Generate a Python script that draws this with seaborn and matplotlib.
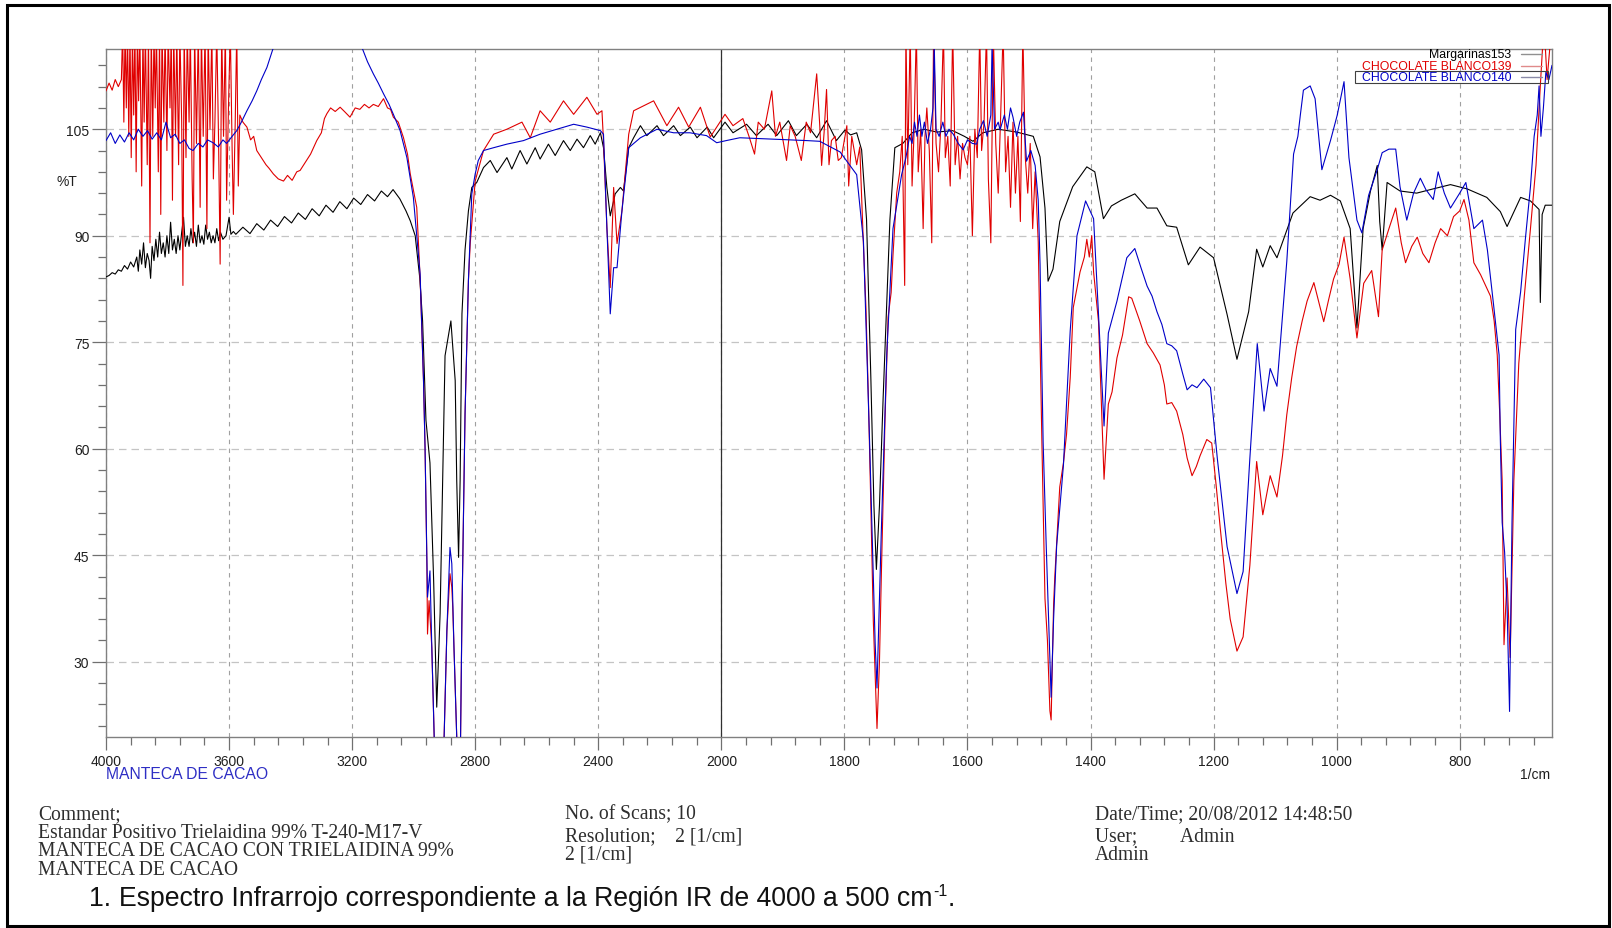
import numpy as np
import pandas as pd
import matplotlib
matplotlib.use("Agg")
import matplotlib.pyplot as plt
import seaborn as sns
from matplotlib import font_manager
from matplotlib.patches import Rectangle
from matplotlib.lines import Line2D

# ---------------------------------------------------------------------------
# Spectra: (wavenumber [1/cm], transmittance [%T])
# ---------------------------------------------------------------------------
MARGARINAS_153 = [
    (4000, 84.2), (3990, 84.4), (3980, 84.8), (3970, 84.6), (3960, 85.2), (3950, 85.0),
    (3940, 85.8), (3930, 85.3), (3920, 86.3), (3910, 85.6), (3900, 87.0), (3895, 85.0),
    (3890, 88.0), (3884, 86.0), (3878, 89.0), (3872, 85.5), (3866, 87.5), (3860, 86.5),
    (3855, 84.0), (3850, 88.5), (3844, 86.5), (3838, 89.5), (3832, 87.0), (3826, 90.5),
    (3820, 87.5), (3814, 89.0), (3808, 87.0), (3802, 90.0), (3796, 87.5), (3790, 91.9),
    (3784, 88.0), (3778, 89.5), (3772, 87.5), (3766, 90.0), (3760, 88.0), (3754, 90.5),
    (3748, 92.6), (3742, 88.5), (3736, 90.0), (3730, 88.5), (3724, 91.0), (3718, 89.0),
    (3712, 90.5), (3706, 88.5), (3700, 91.5), (3694, 89.0), (3688, 90.0), (3682, 88.8),
    (3676, 91.5), (3670, 89.5), (3664, 90.5), (3658, 89.0), (3652, 90.0), (3646, 89.0),
    (3640, 91.0), (3634, 89.3), (3628, 90.5), (3620, 89.5), (3610, 90.0), (3600, 92.6),
    (3594, 90.2), (3586, 90.6), (3578, 90.2), (3555, 91.2), (3532, 90.3), (3510, 91.7),
    (3487, 90.8), (3465, 92.2), (3442, 91.3), (3420, 92.7), (3397, 91.8), (3375, 93.2),
    (3352, 92.3), (3330, 93.8), (3307, 92.8), (3285, 94.3), (3262, 93.3), (3240, 94.8),
    (3217, 93.8), (3195, 95.3), (3172, 94.4), (3150, 95.8), (3127, 94.9), (3105, 96.3),
    (3085, 95.5), (3067, 96.5), (3045, 95.2), (3025, 93.5), (3011, 92.1), (2995, 90.0),
    (2980, 84.0), (2971, 78.0), (2960, 64.0), (2953, 60.8), (2947, 58.0), (2935, 41.4),
    (2925, 23.6), (2914, 36.8), (2898, 73.1), (2879, 78.0), (2865, 69.6), (2860, 55.5),
    (2854, 44.7), (2849, 55.5), (2843, 79.0), (2833, 88.0), (2822, 93.5), (2811, 96.8),
    (2795, 97.5), (2773, 99.6), (2751, 100.6), (2729, 98.9), (2697, 101.0), (2681, 99.4),
    (2654, 102.0), (2632, 100.1), (2605, 102.4), (2589, 100.8), (2562, 102.9), (2540, 101.3),
    (2513, 103.4), (2491, 102.0), (2469, 103.6), (2448, 102.4), (2426, 104.1), (2410, 102.9),
    (2393, 104.5), (2383, 102.4), (2372, 96.8), (2361, 92.8), (2345, 95.9), (2328, 96.8),
    (2318, 96.3), (2301, 102.4), (2285, 103.8), (2263, 105.5), (2242, 104.1), (2209, 105.5),
    (2188, 104.1), (2155, 105.5), (2133, 104.1), (2101, 105.3), (2079, 103.8), (2046, 105.3),
    (2025, 103.8), (1994, 106.0), (1981, 104.5), (1959, 105.7), (1943, 104.1), (1924, 105.7),
    (1910, 104.1), (1891, 106.2), (1878, 104.1), (1861, 105.7), (1845, 103.8), (1829, 106.2),
    (1813, 103.4), (1799, 104.9), (1790, 104.2), (1780, 104.5), (1772, 102.1), (1764, 92.3),
    (1757, 70.0), (1752, 52.0), (1748, 43.0), (1743, 52.0), (1737, 67.2), (1726, 92.3),
    (1718, 102.4), (1705, 103.0), (1690, 104.5), (1670, 105.0), (1650, 104.6), (1624, 104.8),
    (1605, 104.0), (1591, 103.3), (1575, 104.5), (1550, 105.0), (1520, 104.6), (1493, 104.0),
    (1482, 101.1), (1474, 93.9), (1469, 83.6), (1461, 85.3), (1450, 92.0), (1429, 96.9),
    (1406, 99.7), (1393, 99.0), (1379, 92.4), (1366, 94.2), (1350, 95.0), (1328, 95.9),
    (1308, 93.9), (1292, 93.9), (1276, 91.4), (1260, 91.2), (1241, 85.9), (1222, 88.4),
    (1200, 86.9), (1178, 78.9), (1162, 72.6), (1143, 79.3), (1130, 88.1), (1120, 85.6),
    (1108, 88.6), (1097, 86.9), (1071, 93.2), (1043, 95.5), (1027, 95.0), (1010, 95.7),
    (994, 94.9), (978, 91.0), (967, 77.0), (957, 91.0), (945, 96.3), (934, 99.9),
    (930, 92.0), (926, 88.0), (918, 97.5), (897, 96.3), (870, 96.0), (843, 96.6),
    (815, 97.2), (788, 96.6), (756, 95.4), (734, 93.4), (723, 91.3), (701, 95.4),
    (685, 94.9), (671, 93.7), (669, 80.6), (666, 93.0), (661, 94.3), (650, 94.3),
]

CHOCOLATE_BLANCO_139 = [
    (4000, 110.4), (3990, 111.5), (3980, 110.5), (3970, 112.0), (3960, 111.0), (3950, 112.0),
    (3946, 119), (3942, 106), (3938, 119), (3934, 108), (3930, 119), (3926, 104),
    (3922, 119), (3918, 101), (3914, 119), (3910, 107), (3906, 119), (3902, 99),
    (3898, 119), (3894, 109), (3890, 119), (3884, 97), (3880, 119), (3876, 106),
    (3872, 119), (3866, 100), (3862, 119), (3857, 89), (3853, 119), (3848, 104),
    (3844, 119), (3840, 108), (3836, 119), (3830, 99), (3826, 119), (3822, 93),
    (3818, 119), (3812, 106), (3808, 119), (3802, 102), (3798, 119), (3792, 108),
    (3788, 119), (3784, 95), (3780, 119), (3774, 104), (3770, 119), (3764, 100),
    (3760, 119), (3754, 106), (3750, 83), (3746, 119), (3740, 101), (3736, 119),
    (3730, 106), (3726, 119), (3720, 98), (3716, 89), (3712, 119), (3706, 103),
    (3700, 119), (3694, 94), (3690, 119), (3684, 104), (3678, 119), (3672, 91),
    (3668, 119), (3662, 105), (3656, 119), (3651, 98), (3646, 106), (3640, 119),
    (3634, 103), (3629, 86), (3624, 119), (3618, 104), (3612, 119), (3608, 95),
    (3602, 108), (3596, 119), (3590, 102), (3586, 93), (3580, 106), (3575, 119),
    (3570, 97), (3565, 107), (3555, 106.0), (3542, 105.3), (3530, 103.5), (3520, 104.0),
    (3510, 102.0), (3495, 101.0), (3480, 100.0), (3470, 99.5), (3456, 98.7), (3440, 98.0),
    (3423, 97.7), (3410, 98.5), (3395, 97.8), (3380, 99.0), (3369, 99.2), (3350, 100.5),
    (3335, 101.5), (3315, 103.4), (3300, 104.5), (3290, 106.5), (3282, 107.2), (3270, 108.0),
    (3255, 107.5), (3239, 108.1), (3225, 107.5), (3207, 106.7), (3190, 108.0), (3175, 107.8),
    (3160, 108.5), (3145, 108.0), (3131, 108.5), (3115, 108.2), (3098, 109.3), (3085, 108.0),
    (3075, 107.8), (3066, 106.7), (3050, 106.0), (3033, 103.8), (3020, 101.5), (3011, 98.7),
    (2990, 94.0), (2979, 84.0), (2968, 69.6), (2963, 60.2), (2957, 43.8), (2955, 33.9),
    (2950, 38.6), (2941, 32.0), (2933, 19.0), (2925, 10.0), (2910, 10.0), (2901, 19.4),
    (2892, 34.4), (2882, 42.4), (2876, 40.5), (2873, 37.7), (2869, 32.0), (2860, 19.4),
    (2855, 8.0), (2850, 10.0), (2843, 36.8), (2833, 64.9), (2822, 83.7), (2816, 89.0),
    (2800, 97.7), (2773, 102.0), (2740, 104.3), (2697, 105.0), (2648, 106.0), (2621, 103.8),
    (2589, 107.6), (2556, 106.0), (2513, 109.0), (2480, 107.1), (2437, 109.5), (2404, 107.1),
    (2388, 107.6), (2383, 103.4), (2372, 91.2), (2361, 82.7), (2350, 96.8), (2339, 88.9),
    (2323, 93.5), (2301, 104.3), (2285, 107.6), (2220, 109.0), (2177, 105.5), (2139, 108.1),
    (2106, 105.3), (2068, 108.1), (2036, 103.9), (2015, 105.3), (1994, 107.1), (1981, 105.5),
    (1965, 106.5), (1955, 104.0), (1946, 101.5), (1940, 106.0), (1930, 105.0), (1918, 110.4),
    (1912, 104.0), (1905, 106.0), (1894, 100.6), (1888, 105.5), (1880, 104.0), (1870, 100.6),
    (1862, 106.0), (1855, 104.5), (1845, 112.8), (1840, 105.5), (1837, 99.9), (1833, 104.5),
    (1829, 110.6), (1825, 100.0), (1821, 103.4), (1815, 104.0), (1810, 100.6), (1805, 101.0),
    (1796, 105.5), (1793, 97.0), (1788, 104.0), (1780, 100.0), (1775, 102.5), (1769, 88.6),
    (1765, 80.0), (1761, 67.2), (1757, 52.0), (1753, 35.8), (1747, 20.6), (1743, 30.0),
    (1740, 42.0), (1734, 64.0), (1729, 78.5), (1724, 82.0), (1721, 87.3), (1715, 96.0),
    (1710, 99), (1706, 104), (1702, 83), (1700, 119), (1697, 100), (1693, 119),
    (1690, 97), (1687, 104), (1683, 119), (1680, 99), (1676, 105), (1672, 91),
    (1669, 104), (1666, 108), (1662, 102), (1658, 89), (1655, 119), (1651, 103),
    (1647, 99), (1643, 106), (1639, 119), (1636, 101), (1632, 104), (1628, 97),
    (1624, 119), (1620, 100), (1616, 104), (1612, 98), (1608, 103), (1604, 101),
    (1600, 100), (1596, 104), (1592, 90), (1588, 105), (1584, 101), (1580, 119),
    (1577, 102), (1573, 106), (1569, 119), (1566, 98), (1562, 89), (1558, 119),
    (1554, 103), (1550, 96), (1546, 107), (1542, 119), (1538, 99), (1534, 104),
    (1530, 94), (1526, 106), (1522, 96), (1518, 104), (1514, 92), (1510, 119),
    (1506, 101), (1502, 96), (1498, 103), (1494, 91), (1490, 99), (1485, 89.2),
    (1479, 60.9), (1474, 38.9), (1470, 33.0), (1466, 23.1), (1464, 21.8), (1460, 38.0),
    (1458, 42.0), (1450, 54.6), (1444, 58.0), (1439, 62.0), (1433, 70.0), (1428, 79.9),
    (1417, 84.9), (1410, 87.0), (1406, 89.5), (1402, 87.0), (1398, 90.0), (1395, 84.9),
    (1387, 77.9), (1378, 55.7), (1371, 66.3), (1365, 68.0), (1357, 72.8), (1348, 76.0),
    (1338, 81.4), (1333, 81.2), (1326, 79.5), (1320, 78.0), (1308, 74.8), (1298, 73.5),
    (1287, 71.8), (1280, 69.0), (1276, 66.3), (1268, 66.5), (1260, 65.3), (1250, 62.0),
    (1243, 58.7), (1235, 56.2), (1228, 57.5), (1222, 59.0), (1211, 61.3), (1203, 60.8),
    (1196, 55.0), (1189, 48.7), (1180, 41.0), (1173, 36.0), (1162, 31.5), (1152, 33.5),
    (1141, 43.6), (1130, 58.2), (1120, 50.7), (1108, 56.2), (1097, 53.2), (1088, 59.0),
    (1081, 64.8), (1073, 70.0), (1065, 74.4), (1056, 78.0), (1048, 80.8), (1037, 83.4),
    (1021, 77.9), (1013, 81.0), (1005, 83.9), (996, 86.0), (988, 89.8), (978, 83.9),
    (967, 75.6), (956, 83.3), (943, 85.1), (932, 78.6), (926, 88.0), (915, 91.0),
    (904, 93.9), (895, 89.0), (888, 86.2), (878, 88.5), (869, 89.8), (860, 87.5),
    (850, 86.2), (840, 89.0), (831, 91.0), (820, 90.0), (810, 92.7), (800, 93.5),
    (793, 95.1), (785, 92.2), (777, 86.2), (766, 84.5), (758, 83.0), (750, 81.5),
    (744, 78.0), (739, 73.2), (735, 65.0), (731, 55.5), (728, 32.4), (723, 41.8),
    (718, 30.6), (712, 55.5), (704, 72.0), (695, 81.5), (685, 91.0), (676, 99.9),
    (669, 111.1), (663, 120.0), (658, 112.0), (652, 118.0),
]

CHOCOLATE_BLANCO_140 = [
    (4000, 103.4), (3985, 104.5), (3970, 103.0), (3955, 104.2), (3940, 103.2), (3925, 104.5),
    (3910, 103.5), (3895, 105.0), (3880, 104.0), (3865, 104.8), (3850, 103.6), (3835, 104.5),
    (3820, 103.5), (3805, 106.0), (3790, 103.8), (3775, 104.3), (3760, 103.0), (3745, 103.5),
    (3730, 102.3), (3717, 102.0), (3700, 103.0), (3685, 102.5), (3670, 103.5), (3652, 103.1),
    (3635, 102.5), (3620, 103.5), (3608, 103.0), (3590, 104.0), (3575, 104.8), (3560, 106.0),
    (3542, 107.6), (3525, 109.0), (3510, 110.4), (3495, 112.0), (3477, 113.7), (3456, 116.5),
    (3440, 119.0), (3300, 125.0), (3200, 119.0), (3168, 116.5), (3150, 114.5), (3131, 112.8),
    (3115, 111.5), (3098, 110.0), (3080, 108.5), (3066, 107.1), (3044, 104.8), (3022, 101.0),
    (3001, 95.4), (2990, 90.0), (2979, 84.6), (2968, 69.6), (2963, 60.2), (2957, 43.8),
    (2955, 39.1), (2947, 42.8), (2941, 32.0), (2933, 19.0), (2925, 10.0), (2910, 10.0),
    (2901, 19.4), (2892, 34.4), (2882, 46.1), (2876, 43.8), (2869, 32.0), (2860, 19.4),
    (2855, 8.0), (2850, 10.0), (2843, 36.8), (2833, 64.9), (2822, 83.7), (2811, 95.9),
    (2800, 98.7), (2790, 100.6), (2773, 102.0), (2740, 102.4), (2697, 102.9), (2643, 103.4),
    (2589, 104.3), (2534, 105.0), (2480, 105.7), (2437, 105.3), (2393, 104.8), (2383, 104.3),
    (2372, 91.2), (2361, 79.0), (2350, 85.5), (2339, 85.5), (2323, 93.5), (2301, 102.4),
    (2263, 103.8), (2209, 105.0), (2155, 104.5), (2102, 104.5), (2048, 104.1), (2015, 103.1),
    (1992, 103.4), (1970, 103.8), (1916, 103.6), (1861, 103.4), (1840, 103.3), (1807, 101.8),
    (1780, 98.6), (1769, 89.2), (1759, 60.9), (1750, 32.6), (1747, 26.3), (1740, 48.3),
    (1731, 73.5), (1721, 91.0), (1707, 98.6), (1700, 101.0), (1694, 104.0), (1690, 103.0),
    (1686, 106.0), (1682, 104.0), (1678, 107.0), (1674, 104.0), (1670, 106.0), (1665, 103.0),
    (1660, 105.0), (1656, 108.0), (1654, 117.0), (1651, 105.0), (1646, 104.0), (1640, 106.0),
    (1635, 104.0), (1630, 105.0), (1623, 104.3), (1615, 103.0), (1607, 102.1), (1600, 103.5),
    (1592, 103.0), (1585, 102.9), (1580, 105.0), (1574, 106.2), (1568, 104.0), (1562, 107.0),
    (1560, 117.0), (1556, 105.0), (1550, 106.0), (1547, 104.9), (1540, 107.0), (1535, 105.0),
    (1530, 108.0), (1526, 106.7), (1520, 104.0), (1515, 106.0), (1509, 107.4), (1504, 100.5),
    (1497, 102.0), (1490, 99.9), (1485, 95.0), (1482, 86.0), (1477, 60.9), (1472, 46.4),
    (1464, 25.0), (1460, 36.0), (1455, 46.4), (1444, 57.7), (1433, 76.6), (1422, 90.0),
    (1408, 94.9), (1395, 92.4), (1387, 78.9), (1378, 63.2), (1371, 76.3), (1357, 80.8),
    (1341, 86.9), (1328, 88.2), (1318, 85.5), (1308, 82.9), (1300, 81.5), (1292, 79.3),
    (1284, 77.5), (1276, 74.8), (1268, 74.5), (1260, 73.8), (1250, 70.5), (1243, 68.3),
    (1235, 69.0), (1227, 68.6), (1216, 69.8), (1205, 68.6), (1194, 58.7), (1178, 46.2),
    (1162, 39.6), (1152, 42.7), (1141, 58.7), (1129, 74.8), (1118, 65.3), (1108, 71.3),
    (1097, 68.8), (1081, 86.4), (1070, 101.5), (1063, 104.0), (1059, 107.0), (1054, 110.5),
    (1043, 111.1), (1035, 109.3), (1024, 99.3), (1010, 103.4), (999, 107.0), (988, 111.7),
    (980, 101.0), (967, 92.2), (959, 90.4), (948, 95.7), (934, 99.3), (926, 101.7),
    (915, 102.2), (904, 102.2), (897, 96.9), (886, 92.2), (875, 96.0), (864, 98.1),
    (855, 96.5), (843, 95.1), (835, 99.0), (825, 96.0), (815, 93.9), (800, 96.0),
    (790, 97.5), (777, 91.0), (763, 92.2), (755, 88.0), (745, 80.3), (736, 73.2),
    (734, 61.4), (731, 49.6), (727, 45.4), (723, 37.7), (719, 23.0), (715, 49.6),
    (709, 76.8), (701, 82.1), (693, 89.8), (685, 96.9), (679, 104.0), (674, 107.0),
    (671, 111.1), (668, 104.0), (664, 108.0), (660, 113.0), (655, 112.0), (650, 114.0),
]

SERIES_NAMES = ["Margarinas153", "CHOCOLATE BLANCO139", "CHOCOLATE BLANCO140"]
SERIES_COLORS = ["#000000", "#e00000", "#0000c8"]
LEGEND_SWATCH = ["#909090", "#e08a8a", "#8a8aa8"]

X_MAJOR = [4000, 3600, 3200, 2800, 2400, 2000, 1800, 1600, 1400, 1200, 1000, 800]
Y_MAJOR = [30, 45, 60, 75, 90, 105]

COMMENT_LINES = ["Comment;",
                 "Estandar Positivo Trielaidina 99% T-240-M17-V",
                 "MANTECA DE CACAO CON TRIELAIDINA 99%",
                 "MANTECA DE CACAO"]
SCAN_LINES = ["No. of Scans; 10", "Resolution;    2 [1/cm]", "2 [1/cm]"]
DATE_LINES = ["Date/Time; 20/08/2012 14:48:50", "User;         Admin", "Admin"]
CAPTION = "Espectro Infrarrojo correspondiente a la Región IR de 4000 a 500 cm"

# ---------------------------------------------------------------------------
sns.set_theme(style="white")
plt.rcParams["font.family"] = ["Liberation Sans", "DejaVu Sans"]

W, H = 1612, 929
fig = plt.figure(figsize=(W / 100, H / 100), dpi=100, facecolor="white")
L, R, T, B = 106, 1552, 50, 738
ax = fig.add_axes([L / W, 1 - B / H, (R - L) / W, (B - T) / H])
ax.set_facecolor("white")


def px(x, y):
    """figure-pixel (origin top-left) -> figure fraction"""
    return x / W, 1 - y / H


# compressed wavenumber scale above 2000 1/cm
def fwd(x):
    x = np.asarray(x, float)
    return np.where(x > 2000, 2000 + (x - 2000) / 2.0, x)


def inv(u):
    u = np.asarray(u, float)
    return np.where(u > 2000, 2000 + (u - 2000) * 2.0, u)


ax.set_xscale("function", functions=(fwd, inv))

frames = []
for name, data in zip(SERIES_NAMES, [MARGARINAS_153, CHOCOLATE_BLANCO_139, CHOCOLATE_BLANCO_140]):
    df = pd.DataFrame(data, columns=["wn", "T"])
    df["sample"] = name
    frames.append(df)
spectra = pd.concat(frames, ignore_index=True)

for name, color in zip(SERIES_NAMES, SERIES_COLORS):
    sns.lineplot(data=spectra[spectra["sample"] == name], x="wn", y="T", ax=ax,
                 color=color, lw=0.8, sort=False, estimator=None, legend=False, zorder=3)

ax.set_xlim(4000, 650)
ax.set_ylim(19.4, 116.3)
ax.set_xlabel("")
ax.set_ylabel("")

x_minor = list(range(3920, 2000, -80)) + list(range(1960, 650, -40))
y_minor = [v for v in range(21, 115, 3) if v not in Y_MAJOR]
ax.set_xticks(X_MAJOR, labels=[str(v) for v in X_MAJOR])
ax.set_xticks(x_minor, minor=True)
ax.set_yticks(Y_MAJOR, labels=[str(v) for v in Y_MAJOR])
ax.set_yticks(y_minor, minor=True)

tick_col = "#707070"
ax.tick_params(axis="y", which="major", direction="out", length=10, width=0.9,
               color=tick_col, pad=2, labelsize=10, labelcolor="#202020", left=True)
ax.tick_params(axis="y", which="minor", direction="out", length=6, width=0.9,
               color=tick_col, left=True)
ax.tick_params(axis="x", which="major", direction="out", length=9, width=0.9,
               color=tick_col, pad=3, labelsize=10, labelcolor="#202020", bottom=True)
ax.tick_params(axis="x", which="minor", direction="out", length=6, width=0.9,
               color=tick_col, bottom=True)

for s in ax.spines.values():
    s.set_color("#808080")
    s.set_linewidth(1.0)

ax.set_axisbelow(True)
ax.grid(False)
ax.grid(axis="y", which="major", ls=(0, (6, 4)), color="#c4c4c4", lw=0.9)
ax.grid(axis="x", which="major", ls=(0, (4, 4)), color="#a0a0a0", lw=0.8)
ax.axvline(2000, color="#303030", lw=0.9, zorder=2)

# axis captions
fig.text(*px(77, 182), "%T", ha="right", va="center", fontsize=10, color="#202020")
fig.text(*px(106, 775), "MANTECA DE CACAO", ha="left", va="center", fontsize=11.3,
         color="#2e2ec4")
fig.text(*px(1550, 775), "1/cm", ha="right", va="center", fontsize=10, color="#202020")

# legend block
leg_rows = [55, 66.5, 78]
for name, color, sw, yy in zip(SERIES_NAMES, SERIES_COLORS, LEGEND_SWATCH, leg_rows):
    fig.text(*px(1511, yy), name, ha="right", va="center", fontsize=8.8, color=color)
    x0, y0 = px(1521, yy)
    x1, _ = px(1542, yy)
    fig.add_artist(Line2D([x0, x1], [y0, y0], color=sw, lw=1.0, transform=fig.transFigure))
bx, by = px(1355, 84)
fig.add_artist(Rectangle((bx, by), (1548 - 1355) / W, 12 / H, transform=fig.transFigure,
                         fill=False, ec="#404040", lw=0.8))

# acquisition notes
serif = ["Liberation Serif", "DejaVu Serif"]
note_col = "#2e2e2e"
for line, yb in zip(COMMENT_LINES, [819, 838, 856, 875]):
    fig.text(*px(38, yb), line, ha="left", va="baseline", fontsize=14.1, family=serif, color=note_col)
for line, yb in zip(SCAN_LINES, [819, 841, 860]):
    fig.text(*px(565, yb), line, ha="left", va="baseline", fontsize=14.1, family=serif, color=note_col)
for line, yb in zip(DATE_LINES, [819, 841, 860]):
    fig.text(*px(1095, yb), line, ha="left", va="baseline", fontsize=14.1, family=serif, color=note_col)

# figure caption with superscript exponent
installed = {f.name for f in font_manager.fontManager.ttflist}
if "Liberation Sans Narrow" in installed:
    cap_family, cap_size = ["Liberation Sans Narrow", "Liberation Sans"], 23.0
else:
    cap_family, cap_size = ["Liberation Sans", "DejaVu Sans"], 19.2
base_y = 906
fig.text(*px(111, base_y), "1.", ha="right", va="baseline", fontsize=cap_size,
         family=cap_family, color="#111111")
cap = fig.text(*px(119, base_y), CAPTION, ha="left", va="baseline", fontsize=cap_size,
               family=cap_family, color="#111111")
fig.canvas.draw()
rend = fig.canvas.get_renderer()
bb = cap.get_window_extent(rend)
sup = fig.text((bb.x1 + 1) / W, (H - base_y + 0.5 * cap_size) / H, "-1", ha="left",
               va="baseline", fontsize=cap_size * 0.6, family=cap_family, color="#111111")
bb2 = sup.get_window_extent(rend)
fig.text(bb2.x1 / W, (H - base_y) / H, ".", ha="left", va="baseline", fontsize=cap_size,
         family=cap_family, color="#111111")

# outer frame
fx, fy = px(7, 927)
fig.add_artist(Rectangle((fx, fy), (1609 - 7) / W, (927 - 6) / H, transform=fig.transFigure,
                         fill=False, ec="black", lw=2.2))

fig.savefig("out.png", dpi=100, facecolor="white")
